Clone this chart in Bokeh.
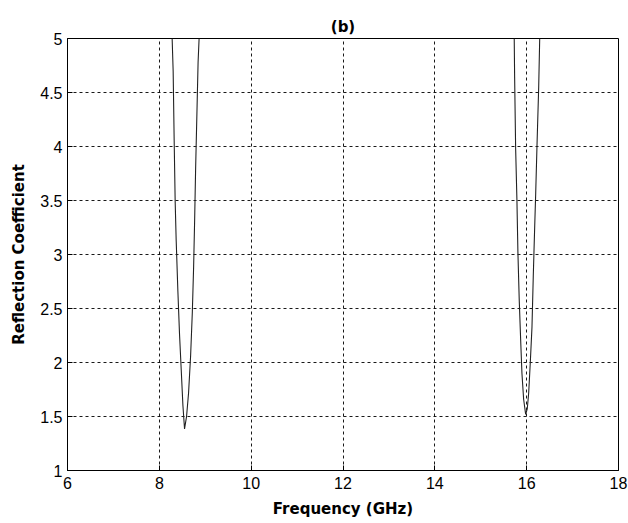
from bokeh.plotting import figure
from bokeh.models import Range1d, FixedTicker, Title
from bokeh.embed import file_html
from bokeh.resources import INLINE

# Dip 1 (around 8.55 GHz)
freq1 = [8.279, 8.301, 8.323, 8.345, 8.367, 8.404, 8.440, 8.477, 8.514, 8.549,
         8.593, 8.637, 8.681, 8.719, 8.747, 8.769, 8.791, 8.822, 8.844, 8.866]
refl1 = [5.00, 4.70, 4.06, 3.49, 3.13, 2.66, 2.26, 1.93, 1.60, 1.385,
         1.50, 1.72, 2.06, 2.47, 2.89, 3.32, 3.81, 4.37, 4.78, 5.00]

# Dip 2 (around 16 GHz)
freq2 = [15.729, 15.738, 15.760, 15.788, 15.810, 15.838, 15.869, 15.897, 15.934, 15.978,
         16.013, 16.044, 16.079, 16.116, 16.144, 16.175, 16.197, 16.225, 16.262, 16.284]
refl2 = [5.00, 4.64, 3.98, 3.50, 3.01, 2.58, 2.21, 1.90, 1.66, 1.52,
         1.57, 1.72, 2.00, 2.33, 2.80, 3.26, 3.57, 4.01, 4.55, 5.00]

x_ticks = [6, 8, 10, 12, 14, 16, 18]
y_ticks = [1, 1.5, 2, 2.5, 3, 3.5, 4, 4.5, 5]

TICK_FONT = "Liberation Sans"
LABEL_FONT = "DejaVu Sans"

p = figure(width=628, height=523, output_backend="svg", toolbar_location=None,
           x_range=Range1d(6, 18), y_range=Range1d(1, 5),
           min_border_left=67, min_border_right=10, min_border_top=38, min_border_bottom=53)
p.background_fill_color = "white"
p.border_fill_color = "white"
p.outline_line_color = "black"
p.outline_line_width = 1
p.outline_line_alpha = 1

p.line(freq1, refl1, line_color="#222222", line_width=1.1)
p.line(freq2, refl2, line_color="#222222", line_width=1.1)

p.title = Title(text="(b)", align="center", text_font=LABEL_FONT, text_font_size="15px",
                text_font_style="bold", text_color="black", offset=0, standoff=5)

for ax in (p.xaxis[0], p.yaxis[0]):
    ax.axis_line_color = "black"
    ax.major_tick_line_color = "black"
    ax.major_tick_in = 5
    ax.major_tick_out = 0
    ax.minor_tick_line_color = None
    ax.major_label_text_font = TICK_FONT
    ax.major_label_text_font_size = "16px"
    ax.major_label_text_color = "black"
    ax.axis_label_text_font = LABEL_FONT
    ax.axis_label_text_font_size = "15px"
    ax.axis_label_text_font_style = "bold"
    ax.axis_label_text_color = "black"

p.xaxis[0].ticker = FixedTicker(ticks=x_ticks)
p.yaxis[0].ticker = FixedTicker(ticks=y_ticks)
p.xaxis[0].major_label_overrides = {t: str(t) for t in x_ticks}
p.yaxis[0].major_label_overrides = {1: "1", 1.5: "1.5", 2: "2", 2.5: "2.5", 3: "3",
                                    3.5: "3.5", 4: "4", 4.5: "4.5", 5: "5"}
p.xaxis[0].axis_label = "Frequency (GHz)"
p.yaxis[0].axis_label = "Reflection Coefficient"
p.xaxis[0].major_label_standoff = 6
p.yaxis[0].major_label_standoff = 5
p.xaxis[0].axis_label_standoff = 8
p.yaxis[0].axis_label_standoff = 9

for g in (p.xgrid[0], p.ygrid[0]):
    g.grid_line_color = "black"
    g.grid_line_dash = "3 3"
    g.grid_line_width = 1
    g.grid_line_alpha = 0.9

open("out.html", "w").write(file_html(p, INLINE))
